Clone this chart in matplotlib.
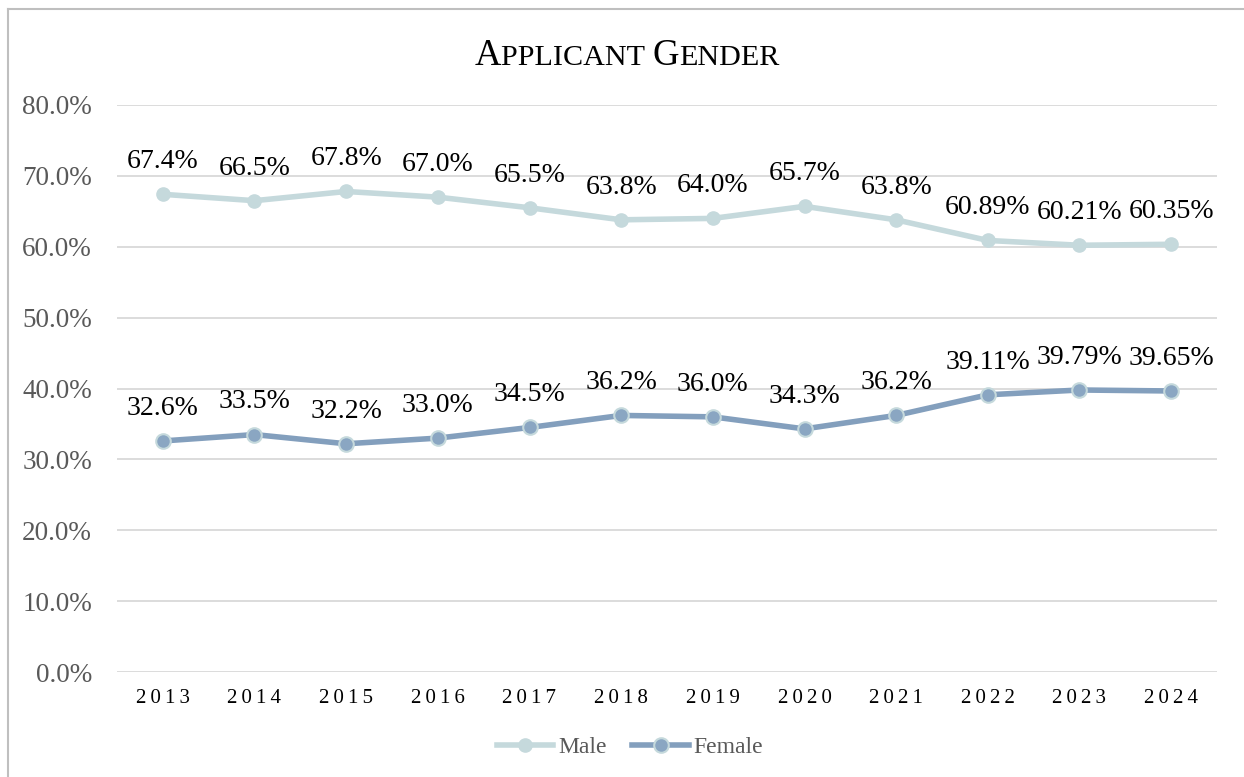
import matplotlib.pyplot as plt
from matplotlib.lines import Line2D

years = ["2013", "2014", "2015", "2016", "2017", "2018",
         "2019", "2020", "2021", "2022", "2023", "2024"]
male = [67.4, 66.5, 67.8, 67.0, 65.5, 63.8, 64.0, 65.7, 63.8, 60.89, 60.21, 60.35]
female = [32.6, 33.5, 32.2, 33.0, 34.5, 36.2, 36.0, 34.3, 36.2, 39.11, 39.79, 39.65]
male_labels = ["67.4%", "66.5%", "67.8%", "67.0%", "65.5%", "63.8%",
               "64.0%", "65.7%", "63.8%", "60.89%", "60.21%", "60.35%"]
female_labels = ["32.6%", "33.5%", "32.2%", "33.0%", "34.5%", "36.2%",
                 "36.0%", "34.3%", "36.2%", "39.11%", "39.79%", "39.65%"]

MALE_C = "#C5D9DC"
FEMALE_C = "#839FBD"
SERIF = "Liberation Serif"

plt.rcParams["font.family"] = SERIF

W, H = 1244, 777
fig = plt.figure(figsize=(W / 100, H / 100), dpi=100)
ax = fig.add_axes([117 / W, 1 - 672 / H, 1100 / W, (672 - 105) / H])

x = list(range(len(years)))
ax.plot(x, male, color=MALE_C, lw=4, marker="o", ms=9.5,
        mfc=MALE_C, mec=MALE_C, zorder=3, solid_capstyle="round")
ax.plot(x, female, color=FEMALE_C, lw=4, marker="o", ms=10.5,
        mfc="#8AA6C2", mec=MALE_C, mew=1.5, zorder=3, solid_capstyle="round")

for xi, v, lab in zip(x, male, male_labels):
    ax.annotate(lab, (xi, v), xytext=(0, 23.5), textcoords="offset points",
                ha="center", va="center", fontsize=20, color="black")
for xi, v, lab in zip(x, female, female_labels):
    ax.annotate(lab, (xi, v), xytext=(0, 23.5), textcoords="offset points",
                ha="center", va="center", fontsize=20, color="black")

ax.set_xlim(-0.5, len(years) - 0.5)
ax.set_ylim(0, 80)
ax.set_yticks(range(0, 81, 10))
ax.set_yticklabels([f"{v:.1f}%" for v in range(0, 81, 10)],
                   fontsize=19.5, color="#595959")
ax.set_xticks(x)
ax.set_xticklabels(["\u2009".join(y) for y in years], fontsize=15, color="black")
ax.tick_params(axis="y", length=0, pad=18)
ax.tick_params(axis="x", length=0, pad=12)
ax.grid(axis="y", color="#D9D9D9", lw=1.3)
ax.set_axisbelow(True)
for s in ax.spines.values():
    s.set_visible(False)

# legend
handles = [
    Line2D([], [], color=MALE_C, lw=4, marker="o", ms=9.5, mfc=MALE_C, mec=MALE_C),
    Line2D([], [], color=FEMALE_C, lw=4, marker="o", ms=10.5,
           mfc="#8AA6C2", mec=MALE_C, mew=1.5),
]
leg = fig.legend(handles, ["Male", "Female"], loc="center",
                 bbox_to_anchor=(630 / W, 1 - 747 / H), ncol=2, frameon=False,
                 fontsize=17, handlelength=2.4, handletextpad=0.2,
                 columnspacing=1.1, labelcolor="#595959")

# small-caps title
pieces = [("A", 26.5), ("PPLICANT ", 21.7), ("G", 26.5), ("ENDER", 21.7)]
texts = [fig.text(0, 1 - 65 / H, s, fontsize=fs, ha="left", va="baseline",
                  color="black") for s, fs in pieces]
renderer = fig.canvas.get_renderer()
widths = [t.get_window_extent(renderer).width for t in texts]
xpos = 627 - sum(widths) / 2
for t, w in zip(texts, widths):
    t.set_x(xpos / W)
    xpos += w

# chart border
fig.add_artist(Line2D([8 / W, 8 / W], [0, 1 - 9 / H], color="#BFBFBF", lw=1.5))
fig.add_artist(Line2D([8 / W, 1], [1 - 9 / H, 1 - 9 / H], color="#BFBFBF", lw=1.5))

fig.savefig("out.png", dpi=100)
